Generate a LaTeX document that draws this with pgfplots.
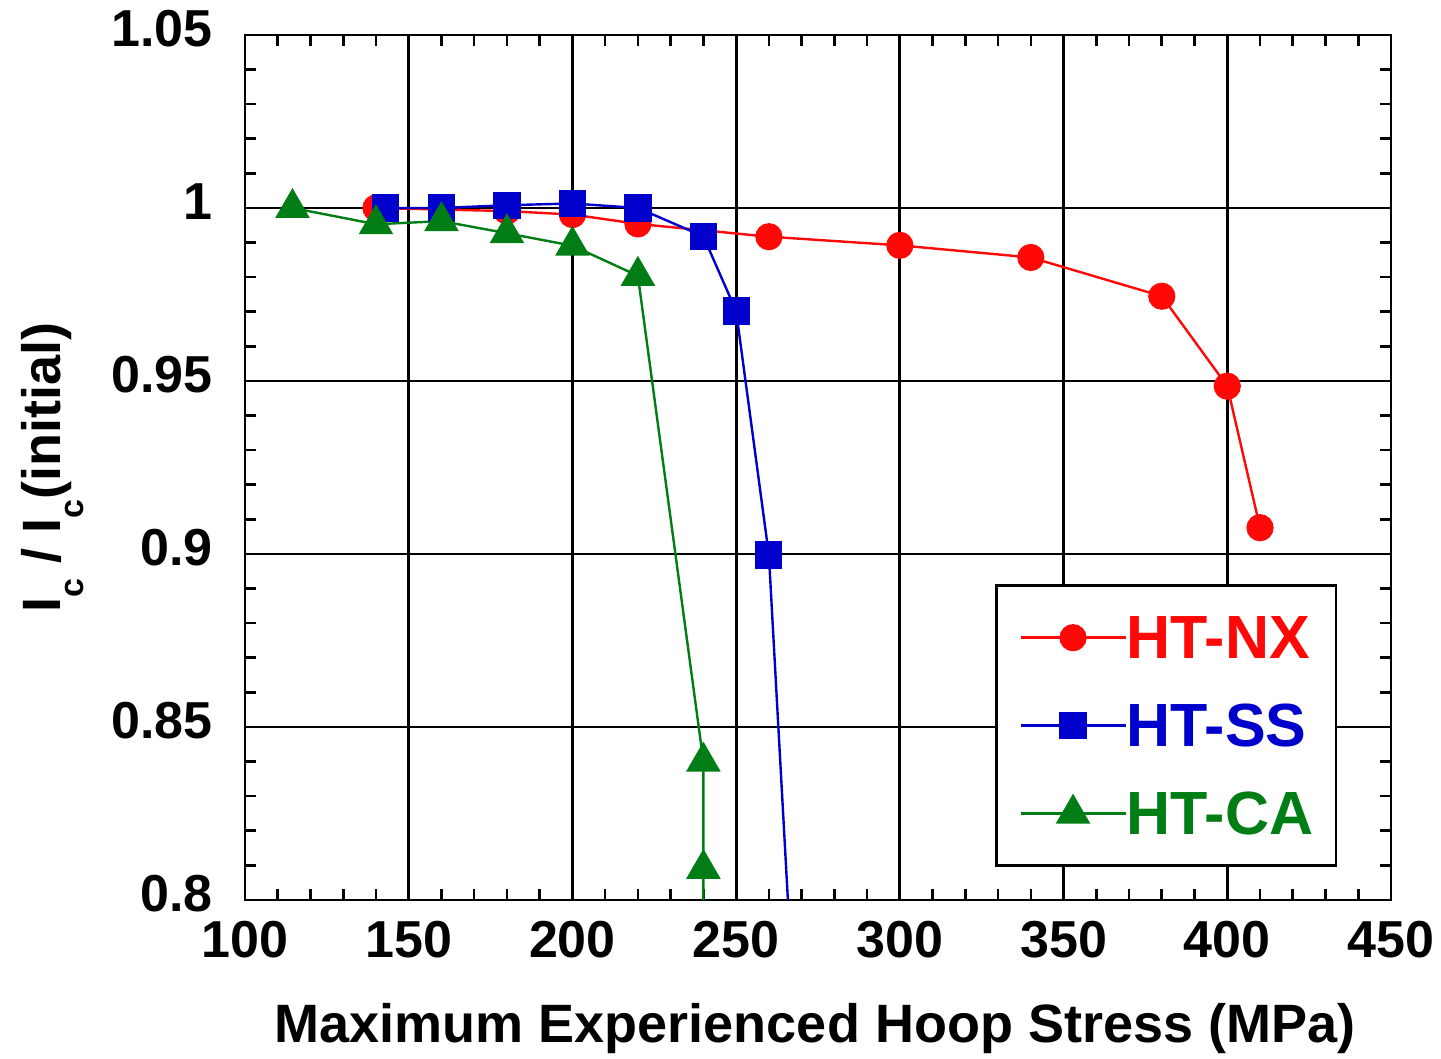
\documentclass[border=0pt]{standalone}
\usepackage{fontspec}
\setmainfont{Liberation Sans}
\usepackage{pgfplots}
\pgfplotsset{compat=1.18}
\definecolor{cred}{RGB}{255,8,8}
\definecolor{cblue}{RGB}{0,0,204}
\definecolor{cgreen}{RGB}{0,125,20}
\begin{document}
\begin{tikzpicture}
\path[use as bounding box] (-122.5pt,-79.5pt) rectangle (598pt,450pt);
\begin{axis}[
  at={(0,0)}, anchor=south west,
  scale only axis, width=573pt, height=432.5pt,
  xmin=100, xmax=450, ymin=0.8, ymax=1.05,
  xtick={100,150,200,250,300,350,400,450},
  ytick={0.8,0.85,0.9,0.95,1,1.05},
  minor x tick num=4, minor y tick num=4,
  tick align=inside,
  major tick length=5.3pt, minor tick length=5.3pt,
  grid=major,
  major grid style={black, line width=1.4pt},
  axis line style={black, line width=1.4pt},
  every tick/.style={black, line width=1.3pt},
  /pgf/number format/assume math mode=true,
  ticklabel style={font=\fontsize{26}{26}\selectfont\bfseries, inner sep=0pt},
  xticklabel style={anchor=base, yshift=-29pt},
  yticklabel style={anchor=base east, xshift=-16pt, yshift=-6pt},
  xlabel={Maximum Experienced Hoop Stress (MPa)},
  xlabel style={font=\fontsize{27}{27}\selectfont\bfseries, at={(axis description cs:0.4974,0)}, anchor=base, yshift=-71.5pt, inner sep=0pt},
  ylabel={I\raisebox{-11.5pt}{\fontsize{17}{17}\selectfont c} / I\raisebox{-11.5pt}{\fontsize{17}{17}\selectfont c}(initial)},
  ylabel style={font=\fontsize{27}{27}\selectfont\bfseries, at={(axis description cs:-0.1614,0.5)}, anchor=base, rotate=0, inner sep=0pt},
  legend style={at={(0.6545,0.03815)}, anchor=south west, draw=black, line width=1.3pt, fill=white,
    inner xsep=11.5pt, inner ysep=15.5pt, row sep=23pt,
    font=\fontsize{30.5}{30.5}\selectfont\bfseries,
    nodes={inner sep=0pt, text height=21pt, text depth=0pt},
    /tikz/every even column/.append style={column sep=10.5pt}},
  legend cell align=left,
  legend image code/.code={\draw[mark repeat=2,mark phase=2,#1] plot coordinates {(0pt,0pt) (26.25pt,0pt) (52.5pt,0pt)};},
]
\addplot[cred, line width=1.2pt, mark=*, mark size=6.2pt, mark options={solid, fill=cred}] coordinates {
(140,1.0) (180,0.9991) (200,0.9981) (220,0.9954) (260,0.9917) (300,0.9892) (340,0.9857) (380,0.9745) (400,0.9485) (410,0.9076)};
\addlegendentry{\textcolor{cred}{HT-NX}}
\addplot[cblue, line width=1.2pt, mark=square*, mark size=6.2pt, mark options={solid, fill=cblue}] coordinates {
(143,1.0) (160,1.0) (180,1.0008) (200,1.0013) (220,1.0) (240,0.9918) (250,0.9702) (260,0.8997) (270,0.728)};
\addlegendentry{\textcolor{cblue}{HT-SS}}
\addplot[cgreen, line width=1.2pt, mark=triangle*, mark size=8.8pt, mark options={solid, fill=cgreen}] coordinates {
(114.5,1.0) (140,0.9953) (160,0.9962) (180,0.9927) (200,0.9891) (220,0.9804) (240,0.84) (240,0.809) (240,0.78)};
\addlegendentry{\textcolor{cgreen}{HT-CA}}
\end{axis}
\end{tikzpicture}
\end{document}
